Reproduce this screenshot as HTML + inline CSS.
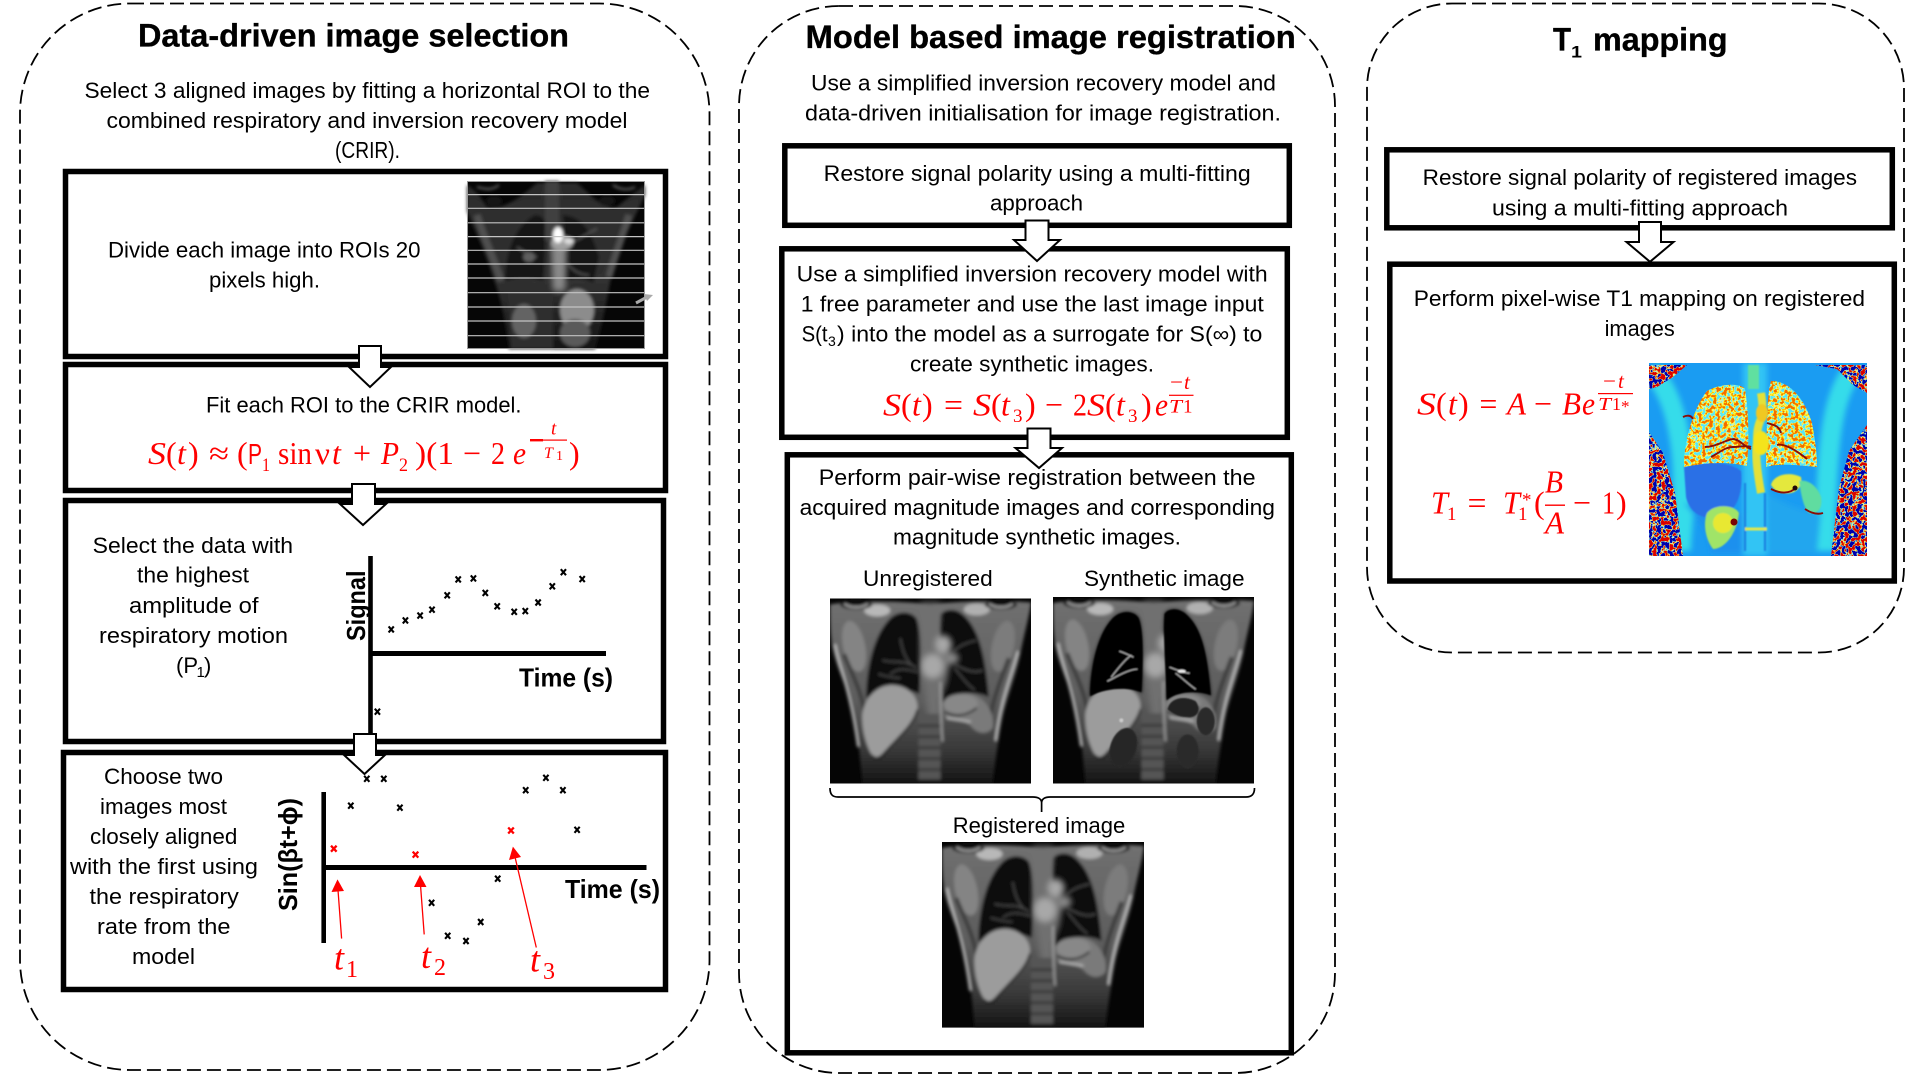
<!DOCTYPE html>
<html><head><meta charset="utf-8"><title>T1 mapping pipeline</title>
<style>
html,body{margin:0;padding:0;background:#fff;width:1906px;height:1075px;overflow:hidden}
svg{display:block}
text{font-family:"Liberation Sans",sans-serif;font-size:22px;fill:#000}
.b{font-weight:bold}
.t{font-size:32px;font-weight:bold;stroke:#000;stroke-width:.35}
.s{font-size:15px}
.m{font-family:"Liberation Serif",serif;font-size:32px;fill:#f00;font-style:italic}
.n{font-family:"Liberation Serif",serif;font-size:32px;fill:#f00}
.ms{font-family:"Liberation Serif",serif;font-size:19px;fill:#f00}
.mi{font-family:"Liberation Serif",serif;font-size:19px;fill:#f00;font-style:italic}
.box{fill:none;stroke:#000;stroke-width:5.5}
.dash{fill:none;stroke:#000;stroke-width:1.8;stroke-dasharray:14 6}
.arr{fill:#fff;stroke:#000;stroke-width:2}
</style></head><body>
<svg width="1906" height="1075" viewBox="0 0 1906 1075" xmlns="http://www.w3.org/2000/svg">
<defs>
<filter id="b1" x="-5%" y="-5%" width="110%" height="110%"><feGaussianBlur stdDeviation="1.5"/></filter>
<filter id="b2" x="-5%" y="-5%" width="110%" height="110%"><feGaussianBlur stdDeviation="0.7"/></filter>
<filter id="b3" x="-10%" y="-10%" width="120%" height="120%"><feGaussianBlur stdDeviation="3"/></filter>
<linearGradient id="bodyg" x1="0" y1="0" x2="0" y2="1"><stop offset="0" stop-color="#707070"/><stop offset=".55" stop-color="#5c5c5c"/><stop offset=".82" stop-color="#383838"/><stop offset="1" stop-color="#141414"/></linearGradient>
<linearGradient id="roig" x1="0" y1="0" x2="0" y2="1"><stop offset="0" stop-color="#2c2c2c"/><stop offset=".6" stop-color="#303030"/><stop offset="1" stop-color="#161616"/></linearGradient>
<filter id="lungN" x="0" y="0" width="100%" height="100%"><feTurbulence type="fractalNoise" baseFrequency="0.28" numOctaves="2" seed="4"/>
<feColorMatrix values="5 0 0 0 -2 5 0 0 0 -2 5 0 0 0 -2 0 0 0 0 1"/>
<feComponentTransfer><feFuncR type="table" tableValues=".1 .55 .95 1 1 .9"/><feFuncG type="table" tableValues=".8 .9 .95 .85 .55 .15"/><feFuncB type="table" tableValues=".9 .55 .15 0 0 0"/></feComponentTransfer></filter>
<filter id="sideN" x="0" y="0" width="100%" height="100%"><feTurbulence type="fractalNoise" baseFrequency="0.24" numOctaves="2" seed="9"/>
<feColorMatrix values="6 0 0 0 -2.5 6 0 0 0 -2.5 6 0 0 0 -2.5 0 0 0 0 1"/>
<feComponentTransfer><feFuncR type="table" tableValues="0 0 .2 .9 1 .7"/><feFuncG type="table" tableValues="0 0 .8 .9 .3 0"/><feFuncB type="table" tableValues=".42 .5 .8 .2 0 0"/></feComponentTransfer></filter>
<clipPath id="sides"><path d="M0 69L14 90L26 130L34 193H0ZM218 62L200 88L190 125L182 193H218ZM0 2H38L24 14L8 24L0 26ZM218 2H166L188 6L204 22L218 30Z"/></clipPath>
<clipPath id="lungsT"><path d="M35 100C36 70 48 40 58 28C72 20 92 20 96 26C100 50 100 80 98 103C76 98 55 100 35 104ZM117 100C118 60 118 30 122 18C140 18 155 34 163 60C166 76 168 90 168 104C150 102 130 100 117 104Z"/></clipPath>

<symbol id="mri" viewBox="0 0 200 186" preserveAspectRatio="none">
<rect width="200" height="186" fill="#050505"/>
<g filter="url(#b1)">
<path d="M0 6C20 2 70 2 100 6C130 2 180 2 200 4C198 20 192 40 189 58C184 80 176 100 172 118C168 140 164 165 162 186H32C30 160 28 135 22 110C16 85 6 70 2 48C0 30 0 20 0 6Z" fill="url(#bodyg)"/>
<ellipse cx="24" cy="48" rx="11" ry="26" fill="#848484" transform="rotate(-12 24 48)"/>
<ellipse cx="172" cy="48" rx="11" ry="26" fill="#7c7c7c" transform="rotate(12 172 48)"/>
<path d="M5 46C8 66 20 90 28 149M187 53C182 74 170 100 165 143" stroke="#c8c8c8" stroke-width="2" fill="none"/>
<path d="M14 56C20 72 30 90 34 112M178 60C172 76 164 96 160 116" stroke="#3c3c3c" stroke-width="4" fill="none"/>
<ellipse cx="47" cy="12" rx="13" ry="6" fill="#b8b8b8"/><ellipse cx="146" cy="11" rx="13" ry="6" fill="#b0b0b0"/>
<path d="M36 100C36 74 42 40 58 22C66 12 80 12 86 20C91 32 91 60 89 96C76 90 54 90 36 100Z" fill="#090909"/>
<path d="M110 16C114 11 124 9 132 16C146 28 154 50 158 99C148 94 126 92 112 104C112 84 108 40 110 16Z" fill="#090909"/>
<g filter="url(#b3)">
<path d="M90 4H110V18L108 36L120 60L116 84L110 100V125H98L94 90L90 70Z" fill="#707070"/>
<ellipse cx="102" cy="68" rx="11" ry="12" fill="#a8a8a8"/>
<ellipse cx="113" cy="46" rx="8" ry="9" fill="#a8a8a8"/>
<ellipse cx="122" cy="60" rx="6" ry="6" fill="#8c8c8c"/>
</g>
<path d="M60 76C70 68 78 72 88 74M52 62C64 66 74 60 86 70M70 40C72 52 74 58 80 66M124 66C134 72 144 76 152 72M122 54C130 46 138 44 146 42M124 70C132 80 136 86 144 92M48 76C56 78 62 80 70 80" stroke="#585858" stroke-width="1.1" fill="none"/>
<path d="M32 118C34 100 46 88 60 87C76 86 88 98 87 110C84 128 66 140 52 156C46 162 42 160 38 150C34 140 32 130 32 118Z" fill="#9c9c9c"/>
<path d="M87 112C82 130 66 140 54 156C50 162 46 162 42 158" stroke="#141414" stroke-width="1.8" fill="none"/>
<rect x="88" y="116" width="22" height="66" fill="#545454"/>
<path d="M88 128H110M88 139H110M88 150H110M88 161H110M88 172H110" stroke="#2e2e2e" stroke-width="2"/>
<path d="M113 108C114 98 128 94 140 96C156 100 164 116 162 130C156 138 146 136 140 128C134 122 122 124 114 118Z" fill="#7a7a7a"/>
<ellipse cx="130" cy="106" rx="17" ry="10" fill="#888"/>
<path d="M114 114C124 120 136 118 146 110" stroke="#151515" stroke-width="1.8" fill="none"/>
<path d="M116 120C124 122 132 122 140 124" stroke="#bcbcbc" stroke-width="1.8" fill="none"/>
<path d="M110 84C110 96 110 120 112 144" stroke="#a8a8a8" stroke-width="1.6" fill="none"/>
<ellipse cx="26" cy="6" rx="16" ry="5" fill="#101010"/><ellipse cx="170" cy="6" rx="16" ry="5" fill="#101010"/>
<path d="M14 5C20 10 32 10 38 5M158 5C164 10 176 10 182 5" stroke="#d0d0d0" stroke-width="1.4" fill="none"/>
</g>
</symbol>

<symbol id="mri2" viewBox="0 0 200 186" preserveAspectRatio="none">
<use href="#mri" width="200" height="186"/>
<g filter="url(#b2)">
<path d="M37 99C37 74 43 40 58 23C66 13 80 13 85 21C90 32 90 60 88 95C76 90 54 90 37 99Z" fill="#030303"/>
<path d="M111 17C114 12 124 10 132 17C146 29 153 50 157 98C148 94 126 92 113 103C113 84 109 40 111 17Z" fill="#030303"/>
<path d="M54 84C66 78 76 72 84 72M58 80C64 72 72 62 78 58M66 54C72 56 76 58 80 60M116 70C126 74 132 76 136 76M122 76C130 82 136 88 142 92" stroke="#b0b0b0" stroke-width="1.2" fill="none"/>
<ellipse cx="128" cy="74" rx="4" ry="1.6" fill="#eee"/>
<path d="M114 112C116 100 132 98 142 104C148 112 144 120 136 120C128 120 120 118 114 112Z" fill="#242424"/>
<ellipse cx="152" cy="124" rx="9" ry="14" fill="#2c2c2c"/>
<ellipse cx="70" cy="150" rx="13" ry="20" fill="#262626" transform="rotate(18 70 150)"/>
<ellipse cx="134" cy="154" rx="11" ry="17" fill="#2a2a2a"/>
<ellipse cx="68" cy="123" rx="2" ry="2" fill="#ccc"/>
</g>
</symbol>

<g id="x"><path d="M-2.6 -3L2.6 3M2.6 -3L-2.6 3" stroke="#000" stroke-width="2.1"/></g>
<g id="xr"><path d="M-2.8 -3L2.8 3M2.8 -3L-2.8 3" stroke="#f00" stroke-width="2.3"/></g>
</defs>

<!-- Dashed panels -->
<rect class="dash" x="20" y="3.5" width="689.5" height="1066.5" rx="110" ry="110"/>
<rect class="dash" x="739" y="6" width="596" height="1067" rx="100" ry="100"/>
<rect class="dash" x="1367" y="3.5" width="537" height="649" rx="85" ry="85"/>

<!-- PANEL 1 -->
<text class="t" x="138" y="46.5" textLength="431" lengthAdjust="spacingAndGlyphs">Data-driven image selection</text>
<text x="84.5" y="98" textLength="565.5" lengthAdjust="spacingAndGlyphs">Select 3 aligned images by fitting a horizontal ROI to the</text>
<text x="106.5" y="128" textLength="521" lengthAdjust="spacingAndGlyphs">combined respiratory and inversion recovery model</text>
<text x="335" y="158" textLength="65" lengthAdjust="spacingAndGlyphs" style="font-size:23px">(CRIR).</text>

<rect class="box" x="65.5" y="171.5" width="600" height="185"/>
<rect class="box" x="65.5" y="364.5" width="600" height="126"/>
<rect class="box" x="65.5" y="500.5" width="598" height="241"/>
<rect class="box" x="63.5" y="752.5" width="602" height="237"/>

<text x="108" y="257.5" textLength="312.5" lengthAdjust="spacingAndGlyphs">Divide each image into ROIs 20</text>
<text x="209" y="287.5" textLength="111" lengthAdjust="spacingAndGlyphs">pixels high.</text>

<!-- Image with ROI lines -->
<g transform="translate(467,181)">
<rect width="178" height="168" fill="#060606"/>
<g filter="url(#b1)">
<path d="M0 4C10 10 16 20 20 26C40 30 60 10 70 2H110C120 10 136 30 150 26C160 18 170 10 178 4V14C166 40 150 70 145 90C140 120 134 150 128 168H42C38 140 34 116 26 96C18 70 8 50 0 30Z" fill="url(#roig)"/>
<path d="M10 34C18 60 28 80 34 100M162 34C154 60 146 80 142 96" stroke="#505050" stroke-width="7" fill="none"/>
<path d="M38 100C38 76 46 46 68 34C72 34 76 36 78 40C78 60 78 84 76 100C64 96 50 96 38 100Z" fill="#121212"/>
<path d="M96 34C116 36 124 50 132 76C130 86 128 94 126 102C116 96 106 96 98 100C98 80 98 56 96 34Z" fill="#121212"/>
<rect x="78" y="0" width="14" height="60" fill="#404040"/>
<g filter="url(#b3)"><path d="M84 60H100L98 110H86Z" fill="#8a8a8a"/></g>
<ellipse cx="95" cy="62" rx="11" ry="7" fill="#a0a0a0"/>
<ellipse cx="91" cy="54" rx="5" ry="8" fill="#fff"/>
<ellipse cx="102" cy="60" rx="5" ry="3" fill="#ddd"/>
<ellipse cx="62" cy="76" rx="6" ry="5" fill="#5e5e5e"/>
<path d="M100 82C106 90 114 94 122 94M108 60C116 56 124 50 130 48M50 66C56 70 62 74 70 76" stroke="#606060" stroke-width="1.2" fill="none"/>
<path d="M40 100C60 98 78 104 86 112V168H44Z" fill="#2e2e2e"/>
<ellipse cx="110" cy="129" rx="17" ry="21" fill="#8c8c8c"/>
<ellipse cx="108" cy="152" rx="15" ry="14" fill="#5a5a5a"/>
<ellipse cx="57" cy="140" rx="12" ry="17" fill="#646464"/>
<path d="M10 6C18 8 24 10 32 4M146 4C152 8 160 10 168 6" stroke="#666" stroke-width="2" fill="none"/>
<ellipse cx="27" cy="20" rx="8" ry="5" fill="#151515"/><ellipse cx="140" cy="20" rx="8" ry="5" fill="#151515"/>
</g>
<path d="M0 13.6H178M0 27.3H178M0 41.8H178M0 55.6H178M0 69.3H178M0 83H178M0 97H178M0 111.7H178M0 126H178M0 140H178M0 154.7H178" stroke="#c4c4c4" stroke-width="1.2"/>
<rect x=".5" y=".5" width="177" height="167" fill="none" stroke="#999" stroke-width="1"/>
<path d="M169 122L182 115" stroke="#aaa" stroke-width="3"/><path d="M177 113L186 114L180 120Z" fill="#aaa"/>
</g>

<polygon class="arr" points="359,346 381,346 381,367 391,367 370,387 349,367 359,367"/>

<text x="206" y="412.5" textLength="315.5" lengthAdjust="spacingAndGlyphs">Fit each ROI to the CRIR model.</text>
<g>
<text class="m" x="148" y="464" textLength="18" lengthAdjust="spacingAndGlyphs">S</text>
<text class="n" x="166" y="464">(</text><text class="m" x="177" y="464">t</text><text class="n" x="188" y="464">)</text>
<text class="n" x="209" y="464" textLength="20" lengthAdjust="spacingAndGlyphs">≈</text>
<text class="n" x="237" y="464">(</text>
<text x="248" y="464" style="font-size:29px;fill:#f00" textLength="14" lengthAdjust="spacingAndGlyphs">P</text>
<text class="ms" x="262" y="471" textLength="8" lengthAdjust="spacingAndGlyphs">1</text>
<text class="n" x="278" y="464" textLength="34" lengthAdjust="spacingAndGlyphs">sin</text>
<text class="n" x="315" y="464" textLength="15" lengthAdjust="spacingAndGlyphs">ν</text><text class="m" x="332" y="464">t</text>
<text class="n" x="353" y="464" textLength="18" lengthAdjust="spacingAndGlyphs">+</text>
<text class="m" x="381" y="464" textLength="18" lengthAdjust="spacingAndGlyphs">P</text>
<text class="ms" x="399" y="471" textLength="9" lengthAdjust="spacingAndGlyphs">2</text>
<text class="n" x="415" y="464" textLength="39" lengthAdjust="spacingAndGlyphs">)(1</text>
<text class="n" x="463" y="464" textLength="18" lengthAdjust="spacingAndGlyphs">−</text>
<text class="n" x="491" y="464" textLength="14" lengthAdjust="spacingAndGlyphs">2</text>
<text class="m" x="513" y="464" textLength="13" lengthAdjust="spacingAndGlyphs">e</text>
<rect x="530" y="439" width="13" height="2.4" fill="#f00"/>
<text class="mi" x="551" y="434.5">t</text>
<rect x="543" y="439.5" width="24" height="1.2" fill="#f00"/>
<text class="mi" x="544" y="458" style="font-size:16px">T</text><text class="ms" x="556" y="460" style="font-size:14px">1</text>
<text class="n" x="569" y="464">)</text>
</g>

<polygon class="arr" points="352,484 375,484 375,504 386,504 363,525 340,504 352,504"/>

<!-- Box 3 -->
<text x="92.7" y="553" textLength="200.3" lengthAdjust="spacingAndGlyphs">Select the data with</text>
<text x="137" y="582.5" textLength="112" lengthAdjust="spacingAndGlyphs">the highest</text>
<text x="129" y="613" textLength="129.5" lengthAdjust="spacingAndGlyphs">amplitude of</text>
<text x="99" y="643" textLength="189" lengthAdjust="spacingAndGlyphs">respiratory motion</text>
<text x="176" y="673">(P</text><text class="s" x="196.5" y="677">1</text><text x="204" y="673">)</text>

<path d="M370.5 556V736" stroke="#000" stroke-width="4.6"/>
<path d="M370 653.5H606" stroke="#000" stroke-width="5"/>
<text class="b" transform="translate(365,641) rotate(-90)" style="font-size:26px" textLength="70.5" lengthAdjust="spacingAndGlyphs">Signal</text>
<text class="b" x="519" y="686.5" style="font-size:26px" textLength="94" lengthAdjust="spacingAndGlyphs">Time (s)</text>
<use href="#x" x="391.2" y="629.4"/><use href="#x" x="405.4" y="620.4"/><use href="#x" x="420.1" y="615.6"/><use href="#x" x="432" y="609.7"/><use href="#x" x="447.2" y="595.3"/><use href="#x" x="458.2" y="579.4"/><use href="#x" x="473.4" y="578.4"/><use href="#x" x="485.3" y="592.9"/><use href="#x" x="497.2" y="606.3"/><use href="#x" x="514.2" y="611.8"/><use href="#x" x="525.3" y="611.1"/><use href="#x" x="538.1" y="602.5"/><use href="#x" x="552.3" y="586.3"/><use href="#x" x="563.4" y="572.2"/><use href="#x" x="582.2" y="579.1"/><use href="#x" x="377.4" y="711.7"/>

<polygon class="arr" points="354,734 376,734 376,755 385,755 364.5,774 344,755 354,755"/>

<!-- Box 4 -->
<text x="104" y="784" textLength="119" lengthAdjust="spacingAndGlyphs">Choose two</text>
<text x="100" y="814" textLength="127" lengthAdjust="spacingAndGlyphs">images most</text>
<text x="90" y="844" textLength="147.4" lengthAdjust="spacingAndGlyphs">closely aligned</text>
<text x="70" y="874" textLength="188" lengthAdjust="spacingAndGlyphs">with the first using</text>
<text x="89.5" y="904" textLength="149.3" lengthAdjust="spacingAndGlyphs">the respiratory</text>
<text x="97" y="934" textLength="133.5" lengthAdjust="spacingAndGlyphs">rate from the</text>
<text x="132" y="964" textLength="63" lengthAdjust="spacingAndGlyphs">model</text>

<path d="M323.7 792V943" stroke="#000" stroke-width="4.6"/>
<path d="M323 867.5H646.5" stroke="#000" stroke-width="5"/>
<text class="b" transform="translate(297,911) rotate(-90)" style="font-size:26px" textLength="113" lengthAdjust="spacingAndGlyphs">Sin(βt+ϕ)</text>
<text class="b" x="565" y="898" style="font-size:26px" textLength="95" lengthAdjust="spacingAndGlyphs">Time (s)</text>
<use href="#x" x="366.8" y="778.8"/><use href="#x" x="383.8" y="778.8"/><use href="#x" x="350.8" y="805.7"/><use href="#x" x="399.9" y="807.7"/><use href="#x" x="525.7" y="790.2"/><use href="#x" x="545.9" y="777.8"/><use href="#x" x="562.9" y="790.2"/><use href="#x" x="577.1" y="829.8"/><use href="#x" x="497.7" y="878.7"/><use href="#x" x="431.6" y="902.8"/><use href="#x" x="447.7" y="935.8"/><use href="#x" x="466" y="941"/><use href="#x" x="480.7" y="922"/>
<use href="#xr" x="333.8" y="848.7"/><use href="#xr" x="415.5" y="854.6"/><use href="#xr" x="511" y="830.5"/>
<path d="M341.6 938.6L338 890M424.2 934.4L420.5 885M536.3 947.5L515 857" stroke="#f00" stroke-width="1.3" fill="none"/>
<polygon points="337.5,879.4 331.5,892 344,891" fill="#f00"/>
<polygon points="420,875 414,887 426.5,887" fill="#f00"/>
<polygon points="512.9,846.6 509,860 521,857" fill="#f00"/>
<text class="m" x="334" y="969.5" style="font-size:36px">t</text><text class="n" x="346" y="977" style="font-size:24px">1</text>
<text class="m" x="421" y="968" style="font-size:36px">t</text><text class="n" x="434" y="975" style="font-size:24px">2</text>
<text class="m" x="530" y="971.5" style="font-size:36px">t</text><text class="n" x="543" y="979" style="font-size:24px">3</text>

<!-- PANEL 2 -->
<text class="t" x="805.7" y="48" textLength="490" lengthAdjust="spacingAndGlyphs">Model based image registration</text>
<text x="811" y="90.5" textLength="465" lengthAdjust="spacingAndGlyphs">Use a simplified inversion recovery model and</text>
<text x="805" y="120.5" textLength="476" lengthAdjust="spacingAndGlyphs">data-driven initialisation for image registration.</text>

<rect class="box" x="784.8" y="145.8" width="504.5" height="79.5"/>
<rect class="box" x="781.8" y="248.8" width="505.5" height="188.5"/>
<rect class="box" x="787.3" y="454.8" width="504" height="598"/>

<text x="823.7" y="180.8" textLength="427" lengthAdjust="spacingAndGlyphs">Restore signal polarity using a multi-fitting</text>
<text x="990" y="210.7" textLength="93" lengthAdjust="spacingAndGlyphs">approach</text>
<polygon class="arr" points="1025.5,220.5 1048.5,220.5 1048.5,240 1060,240 1037,261 1014,240 1025.5,240"/>

<text x="796.7" y="281.7" textLength="471" lengthAdjust="spacingAndGlyphs">Use a simplified inversion recovery model with</text>
<text x="800.8" y="311.6" textLength="463" lengthAdjust="spacingAndGlyphs">1 free parameter and use the last image input</text>
<text x="801.6" y="341.6" textLength="26" lengthAdjust="spacingAndGlyphs">S(t</text><text class="s" x="828" y="346" style="font-size:14px">3</text><text x="837" y="341.6" textLength="425.4" lengthAdjust="spacingAndGlyphs">) into the model as a surrogate for S(∞) to</text>
<text x="910" y="371.5" textLength="244" lengthAdjust="spacingAndGlyphs">create synthetic images.</text>

<g>
<text class="m" x="883" y="415.5" textLength="18" lengthAdjust="spacingAndGlyphs">S</text><text class="n" x="901" y="415.5">(</text><text class="m" x="912" y="415.5">t</text><text class="n" x="922" y="415.5">)</text>
<text class="n" x="944" y="415.5" textLength="19" lengthAdjust="spacingAndGlyphs">=</text>
<text class="m" x="973" y="415.5" textLength="18" lengthAdjust="spacingAndGlyphs">S</text><text class="n" x="991" y="415.5">(</text><text class="m" x="1001" y="415.5">t</text><text class="ms" x="1013" y="422">3</text><text class="n" x="1025" y="415.5">)</text>
<text class="n" x="1045" y="415.5" textLength="18" lengthAdjust="spacingAndGlyphs">−</text>
<text class="n" x="1073" y="415.5" textLength="14" lengthAdjust="spacingAndGlyphs">2</text><text class="m" x="1087" y="415.5" textLength="18" lengthAdjust="spacingAndGlyphs">S</text><text class="n" x="1105" y="415.5">(</text><text class="m" x="1116" y="415.5">t</text><text class="ms" x="1128" y="422">3</text><text class="n" x="1141" y="415.5">)</text>
<text class="m" x="1155" y="415.5" textLength="13" lengthAdjust="spacingAndGlyphs">e</text>
<text class="n" x="1170" y="389" style="font-size:21px" textLength="13" lengthAdjust="spacingAndGlyphs">−</text><text class="mi" x="1184" y="389" style="font-size:21px">t</text>
<rect x="1169" y="394.7" width="24.5" height="1.2" fill="#f00"/>
<text class="mi" x="1169" y="412.5" style="font-size:19px" textLength="13" lengthAdjust="spacingAndGlyphs">T</text><text class="ms" x="1183" y="412.5">1</text>
</g>
<polygon class="arr" points="1027.5,428.5 1050.5,428.5 1050.5,448 1062,448 1039,468 1015.5,448 1027.5,448"/>

<text x="818.8" y="484.8" textLength="436.7" lengthAdjust="spacingAndGlyphs">Perform pair-wise registration between the</text>
<text x="799.6" y="514.8" textLength="475.4" lengthAdjust="spacingAndGlyphs">acquired magnitude images and corresponding</text>
<text x="893" y="544.6" textLength="288" lengthAdjust="spacingAndGlyphs">magnitude synthetic images.</text>
<text x="863" y="586" textLength="129.7" lengthAdjust="spacingAndGlyphs">Unregistered</text>
<text x="1084" y="586" textLength="160.5" lengthAdjust="spacingAndGlyphs">Synthetic image</text>
<use href="#mri" x="830" y="598.5" width="201" height="185"/>
<use href="#mri2" x="1053" y="597" width="201" height="186.5"/>
<path d="M830 788C830 794 832 797 838 797H1033C1038 797 1041.6 799 1041.6 803V812M1041.6 803C1041.6 799 1045 797 1050 797H1246C1252 797 1254.5 794 1254.5 788" fill="none" stroke="#000" stroke-width="1.7"/>
<text x="952.7" y="833" textLength="172.6" lengthAdjust="spacingAndGlyphs">Registered image</text>
<use href="#mri" x="942" y="842" width="202" height="185.7"/>

<!-- PANEL 3 -->
<text class="t" x="1553" y="50.5" textLength="18" lengthAdjust="spacingAndGlyphs">T</text>
<text class="b" x="1571" y="57.5" style="font-size:17px" textLength="11" lengthAdjust="spacingAndGlyphs">1</text>
<text class="t" x="1593" y="50.5" textLength="134.6" lengthAdjust="spacingAndGlyphs">mapping</text>

<rect class="box" x="1386.8" y="149.8" width="505.5" height="78"/>
<rect class="box" x="1389.8" y="264.2" width="504.5" height="316.8"/>
<text x="1422.7" y="185" textLength="434.3" lengthAdjust="spacingAndGlyphs">Restore signal polarity of registered images</text>
<text x="1492" y="215.5" textLength="296" lengthAdjust="spacingAndGlyphs">using a multi-fitting approach</text>
<polygon class="arr" points="1639,222 1661,222 1661,242 1673.5,242 1650,261.8 1626.5,242 1639,242"/>
<text x="1413.8" y="306" textLength="451.2" lengthAdjust="spacingAndGlyphs">Perform pixel-wise T1 mapping on registered</text>
<text x="1604.6" y="336" textLength="70.2" lengthAdjust="spacingAndGlyphs">images</text>

<g>
<text class="m" x="1417" y="414.5" textLength="19" lengthAdjust="spacingAndGlyphs">S</text><text class="n" x="1436" y="414.5">(</text><text class="m" x="1448" y="414.5">t</text><text class="n" x="1458" y="414.5">)</text>
<text class="n" x="1479.4" y="414.5" textLength="18" lengthAdjust="spacingAndGlyphs">=</text>
<text class="m" x="1507" y="414.5" textLength="19" lengthAdjust="spacingAndGlyphs">A</text>
<text class="n" x="1534" y="414.5" textLength="18" lengthAdjust="spacingAndGlyphs">−</text>
<text class="m" x="1562" y="414.5" textLength="19" lengthAdjust="spacingAndGlyphs">B</text>
<text class="m" x="1582" y="414.5" textLength="13" lengthAdjust="spacingAndGlyphs">e</text>
<text class="n" x="1603" y="388" style="font-size:21px" textLength="13" lengthAdjust="spacingAndGlyphs">−</text><text class="mi" x="1618" y="388" style="font-size:21px">t</text>
<rect x="1598" y="393" width="35" height="1.2" fill="#f00"/>
<text class="mi" x="1598" y="410" style="font-size:18px" textLength="13" lengthAdjust="spacingAndGlyphs">T</text><text class="ms" x="1612" y="410" style="font-size:18px">1</text><text class="ms" x="1621" y="412" style="font-size:17px">*</text>

<text class="m" x="1431" y="513.5" textLength="17" lengthAdjust="spacingAndGlyphs">T</text><text class="ms" x="1447" y="520">1</text>
<text class="n" x="1467.5" y="513.5" textLength="19" lengthAdjust="spacingAndGlyphs">=</text>
<text class="m" x="1503" y="513.5" textLength="17" lengthAdjust="spacingAndGlyphs">T</text><text class="ms" x="1518" y="520">1</text><text class="ms" x="1522" y="506">*</text>
<text class="n" x="1534" y="513.5">(</text>
<text class="m" x="1545" y="492.4" textLength="18" lengthAdjust="spacingAndGlyphs">B</text>
<rect x="1545" y="504.5" width="20" height="1.4" fill="#f00"/>
<text class="m" x="1545" y="533.7" textLength="19" lengthAdjust="spacingAndGlyphs">A</text>
<text class="n" x="1573" y="513.5" textLength="18" lengthAdjust="spacingAndGlyphs">−</text>
<text class="n" x="1602" y="513.5" textLength="13" lengthAdjust="spacingAndGlyphs">1</text>
<text class="n" x="1616" y="513.5">)</text>
</g>

<!-- T1 map -->
<g transform="translate(1649,363)">
<svg width="218" height="193" viewBox="0 0 218 193">
<rect width="218" height="193" fill="#1a9cf2"/>
<g filter="url(#b3)">
<path d="M2 8C26 30 34 80 34 120C36 150 32 172 32 188" stroke="#36dcea" stroke-width="20" fill="none"/>
<path d="M204 8C184 30 180 80 178 120C176 150 176 172 176 188" stroke="#36dcea" stroke-width="20" fill="none"/>
<rect x="94" y="0" width="24" height="193" fill="#30c4f4"/>
<path d="M35 140C50 156 60 170 62 190H94V150Z" fill="#1c90ee"/>
<path d="M120 130C130 140 160 150 172 150L168 190H118Z" fill="#20a6ee"/>
</g>
<g filter="url(#b2)">
<rect x="99" y="2" width="11" height="24" fill="#60e0a0"/>
<path d="M35 104C55 98 80 98 92 108C94 130 88 150 70 154C52 158 40 148 37 134Z" fill="#2a70e6"/>
<path d="M58 150C66 140 86 142 90 150C88 170 76 186 64 186C56 176 54 160 58 150Z" fill="#a0e468"/>
<ellipse cx="74" cy="160" rx="10" ry="10" fill="#e8e830"/>
<path d="M122 122C124 112 140 108 152 114C154 124 146 132 136 130C130 130 126 128 122 122Z" fill="#e4e83c"/>
<path d="M150 118C158 116 168 122 172 134C174 146 168 152 160 150C154 144 152 130 150 118Z" fill="#60dca0"/>
<path d="M96 120V188M116 130V188" stroke="#1a80e0" stroke-width="2" fill="none"/>
<path d="M96 166H118" stroke="#e0e850" stroke-width="3"/>
</g>
<rect width="218" height="193" filter="url(#lungN)" clip-path="url(#lungsT)"/>
<g filter="url(#b2)">
<path d="M112 30C114 42 114 50 112 56C108 64 108 72 108 80C106 90 108 108 112 130" stroke="#e4e038" stroke-width="8" fill="none"/>
<ellipse cx="113" cy="50" rx="6" ry="9" fill="#f0c820"/>
<ellipse cx="112" cy="80" rx="8" ry="12" fill="#f4e41c"/>
</g>
<rect width="218" height="193" filter="url(#sideN)" clip-path="url(#sides)"/>
<path d="M56 84C66 84 74 78 84 76C90 76 96 84 102 86M62 94C70 90 76 84 84 84C90 84 98 82 102 84M118 60C124 62 130 62 132 70M128 82C136 80 148 88 158 96M122 126C130 130 140 132 148 124M156 146C162 150 168 152 174 150M34 54C38 52 42 52 44 56" stroke="#8a0c06" stroke-width="1.9" fill="none"/>
<circle cx="85" cy="159" r="3.5" fill="#7a0404"/><circle cx="146" cy="125" r="2.5" fill="#200808"/>
</svg>
</g>
</svg>
</body></html>
